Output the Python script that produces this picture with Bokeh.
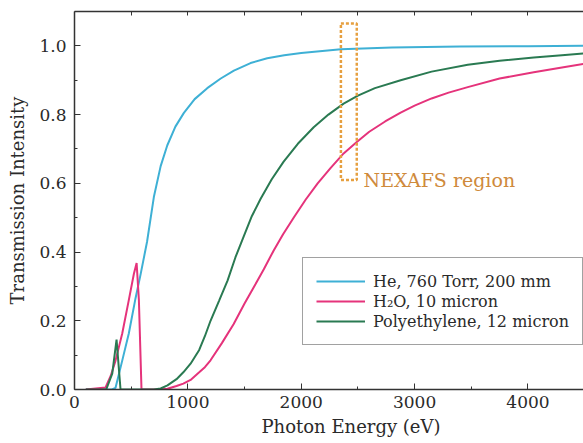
from bokeh.plotting import figure
from bokeh.models import (Range1d, LinearAxis, Legend, LegendItem, Label, Title,
                          FixedTicker, NumeralTickFormatter, ColumnDataSource)
from bokeh.embed import file_html
from bokeh.resources import INLINE

# ---- data ----
he_x = [100, 330, 362, 421, 479, 538, 583, 640, 700, 760, 818, 890, 965, 1060,
        1171, 1290, 1406, 1553, 1700, 1850, 2000, 2350, 2800, 3400, 4000, 4500]
he_y = [0, 0, 0.005, 0.084, 0.163, 0.265, 0.335, 0.43, 0.56, 0.65, 0.71, 0.765,
        0.805, 0.845, 0.877, 0.905, 0.928, 0.95, 0.964, 0.973, 0.979, 0.99, 0.995,
        0.998, 0.999, 1.0]

h2o_x = [100, 274, 320, 362, 421, 479, 524, 548, 568, 591, 650, 750, 820, 900,
         960, 1024, 1100, 1150, 1200, 1300, 1403, 1500, 1580, 1670, 1756, 1840,
         1933, 2040, 2145, 2260, 2374, 2490, 2600, 2740, 2877, 3000, 3150, 3300,
         3469, 3750, 4051, 4300, 4500]
h2o_y = [0, 0.006, 0.04, 0.084, 0.163, 0.26, 0.337, 0.368, 0.26, 0.0, 0, 0,
         0.002, 0.01, 0.017, 0.028, 0.05, 0.065, 0.085, 0.135, 0.19, 0.25, 0.297,
         0.35, 0.404, 0.452, 0.5, 0.553, 0.6, 0.645, 0.687, 0.72, 0.75, 0.78,
         0.806, 0.826, 0.847, 0.864, 0.88, 0.905, 0.923, 0.937, 0.948]

pe_x = [100, 280, 333, 371, 406, 500, 700, 760, 820, 900, 960, 1024, 1100, 1150,
        1200, 1275, 1350, 1420, 1492, 1565, 1642, 1740, 1845, 1970, 2110, 2240,
        2374, 2500, 2650, 2877, 3150, 3469, 3750, 4051, 4300, 4500]
pe_y = [0, 0, 0.046, 0.145, 0.0, 0, 0, 0.003, 0.012, 0.03, 0.05, 0.075, 0.115,
        0.155, 0.2, 0.258, 0.317, 0.385, 0.445, 0.505, 0.555, 0.612, 0.663, 0.715,
        0.763, 0.8, 0.832, 0.855, 0.877, 0.9, 0.925, 0.945, 0.957, 0.966, 0.973,
        0.978]

series_labels = ["He, 760 Torr, 200 mm", "H\u2082O, 10 micron", "Polyethylene, 12 micron"]
series_colors = ["#3eb0d5", "#e5337b", "#2a7a52"]

nexafs_x = [2350, 2490]
nexafs_y = [0.61, 1.065]
nexafs_label = "NEXAFS region"
x_title = "Photon Energy (eV)"
y_title = "Transmission Intensity"

x_ticks = [0, 1000, 2000, 3000, 4000]
x_minor = [500, 1500, 2500, 3500, 4500]
y_ticks = [0.0, 0.2, 0.4, 0.6, 0.8, 1.0]
y_minor = [0.1, 0.3, 0.5, 0.7, 0.9]

FONT = "DejaVu Serif"
TXT = "#2a2a2a"
AX = "#333333"

p = figure(frame_width=509, frame_height=378, x_range=Range1d(0, 4490), y_range=Range1d(0, 1.1),
           output_backend="svg", toolbar_location=None,
           min_border_left=74, min_border_right=0, min_border_top=11, min_border_bottom=54)
p.outline_line_color = None
p.grid.visible = False
p.background_fill_color = "white"
p.border_fill_color = "white"

xt = FixedTicker(ticks=x_ticks, minor_ticks=x_minor)
yt = FixedTicker(ticks=y_ticks, minor_ticks=y_minor)

for ax in p.xaxis:
    ax.ticker = xt
for ax in p.yaxis:
    ax.ticker = yt
    ax.formatter = NumeralTickFormatter(format="0.0")

for ax in list(p.xaxis) + list(p.yaxis):
    ax.axis_line_color = AX
    ax.axis_line_width = 1.5
    ax.major_tick_line_color = AX
    ax.minor_tick_line_color = AX
    ax.major_tick_in = 6
    ax.major_tick_out = 0
    ax.minor_tick_in = 3
    ax.minor_tick_out = 0
    ax.major_label_text_font = FONT
    ax.major_label_text_font_size = "17px"
    ax.major_label_text_color = TXT
    ax.axis_label_text_font = FONT
    ax.axis_label_text_font_size = "18px"
    ax.axis_label_text_font_style = "normal"
    ax.axis_label_text_color = TXT

p.xaxis.major_label_standoff = 6
p.yaxis.major_label_standoff = 8
p.yaxis.axis_label = y_title
p.yaxis.axis_label_standoff = 8

# x title below the axis, placed right of centre as in the (cropped) original
p.add_layout(Title(text=x_title, align="left", offset=187, standoff=6,
                   text_font=FONT, text_font_size="18px", text_font_style="normal",
                   text_color=TXT), "below")

# top frame line with small inward ticks (no labels)
top = LinearAxis(ticker=FixedTicker(ticks=[], minor_ticks=x_ticks + x_minor))
top.axis_line_color = AX
top.axis_line_width = 1.5
top.minor_tick_line_color = AX
top.minor_tick_in = 4
top.minor_tick_out = 0
top.major_tick_out = 0
top.major_label_standoff = 0
p.add_layout(top, "above")

renderers = []
for xs, ys, c in [(he_x, he_y, series_colors[0]), (h2o_x, h2o_y, series_colors[1]),
                  (pe_x, pe_y, series_colors[2])]:
    src = ColumnDataSource(dict(x=xs, y=ys))
    renderers.append(p.line("x", "y", source=src, line_color=c, line_width=2))

p.quad(left=[nexafs_x[0]], right=[nexafs_x[1]], bottom=[nexafs_y[0]], top=[nexafs_y[1]],
       fill_color=None, line_color="#e6a040", line_width=2.5, line_dash="3 2")

p.add_layout(Label(x=nexafs_x[1] + 60, y=nexafs_y[0], text=nexafs_label,
                   text_font=FONT, text_font_size="19px", text_color="#cf8a3c",
                   text_align="left", text_baseline="alphabetic"))

legend = Legend(items=[LegendItem(label=l, renderers=[r]) for l, r in zip(series_labels, renderers)],
                location=(228, 44))
legend.border_line_color = "#444444"
legend.border_line_width = 1
legend.background_fill_alpha = 1
legend.label_text_font = FONT
legend.label_text_font_size = "16px"
legend.label_text_color = TXT
legend.padding = 13
legend.spacing = 0
legend.label_height = 20
legend.glyph_height = 20
legend.glyph_width = 49
legend.label_standoff = 8
legend.margin = 0
p.add_layout(legend)

open("out.html", "w").write(file_html(p, INLINE))
